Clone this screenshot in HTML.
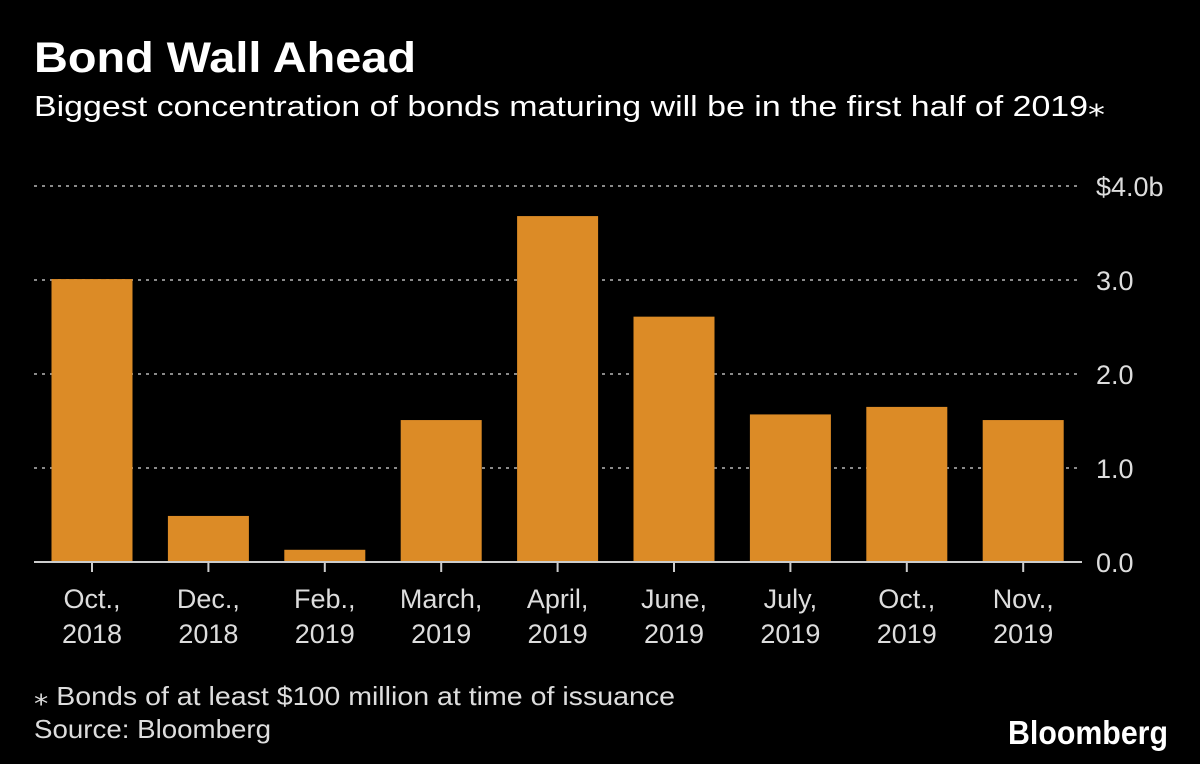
<!DOCTYPE html>
<html><head><meta charset="utf-8"><style>html,body{margin:0;padding:0;background:#000}svg{display:block}</style></head>
<body>
<svg width="1200" height="764" xmlns="http://www.w3.org/2000/svg" font-family="Liberation Sans, sans-serif">
<rect width="1200" height="764" fill="#000"/>
<text x="34" y="72" fill="#fff" font-size="43" font-weight="bold" textLength="382" lengthAdjust="spacingAndGlyphs">Bond Wall Ahead</text>
<text x="34" y="116" fill="#fff" font-size="29" textLength="1071" lengthAdjust="spacingAndGlyphs">Biggest concentration of bonds maturing will be in the first half of 2019⁎</text>
<g id="grid"></g><g id="bars"></g><g id="xaxis"></g><g id="yaxis"></g>
<text x="34" y="705" fill="#ddd" font-size="26" textLength="641" lengthAdjust="spacingAndGlyphs">⁎ Bonds of at least $100 million at time of issuance</text>
<text x="34" y="738" fill="#ddd" font-size="26" textLength="237" lengthAdjust="spacingAndGlyphs">Source: Bloomberg</text>
<text x="1168" y="744" fill="#fff" font-size="33" font-weight="bold" text-anchor="end" textLength="160" lengthAdjust="spacingAndGlyphs">Bloomberg</text>
</svg>
<script>
const categories1 = ["Oct.,","Dec.,","Feb.,","March,","April,","June,","July,","Oct.,","Nov.,"];
const categories2 = ["2018","2018","2019","2019","2019","2019","2019","2019","2019"];
const values = [3.01,0.49,0.13,1.51,3.68,2.61,1.57,1.65,1.51];
const yTicks = [0,1,2,3,4];
const yTickLabels = ["0.0","1.0","2.0","3.0","$4.0b"];
const NS="http://www.w3.org/2000/svg";
const x0=34,x1=1082,y0=562,pxPerUnit=94,firstCenter=92,step=116.4,barW=81;
const y=v=>y0-v*pxPerUnit;
const xc=i=>firstCenter+i*step;
function mk(tag,attrs,parent){const e=document.createElementNS(NS,tag);for(const k in attrs)e.setAttribute(k,attrs[k]);parent.appendChild(e);return e;}
const grid=document.getElementById('grid'),bars=document.getElementById('bars'),xa=document.getElementById('xaxis'),ya=document.getElementById('yaxis');
yTicks.forEach((t,i)=>{
  if(t>0){const l=mk('line',{x1:x0,x2:x1,y1:y(t),y2:y(t),stroke:'#8a8a8a','stroke-width':2,'stroke-dasharray':'3,5'},grid);
  
  }
  const tx=mk('text',{x:1096,y:y(t)+10,fill:'#ddd','font-size':27},ya);
  
  
  tx.textContent=yTickLabels[i];
});
values.forEach((v,i)=>{
  const r=mk('rect',{x:xc(i)-barW/2,y:y(v),width:barW,height:v*pxPerUnit,fill:'#dc8b26'},bars);
  
  
  const tk=mk('line',{x1:xc(i),x2:xc(i),y1:y0,y2:y0+10,stroke:'#ccc','stroke-width':2},xa);
  
  
  const t1=mk('text',{x:xc(i),y:608,fill:'#ddd','font-size':27,'text-anchor':'middle'},xa);
  
  
  t1.textContent=categories1[i];
  const t2=mk('text',{x:xc(i),y:643,fill:'#ddd','font-size':27,'text-anchor':'middle'},xa);
  
  
  t2.textContent=categories2[i];
});
const ax=mk('line',{x1:x0,x2:x1,y1:y0,y2:y0,stroke:'#ccc','stroke-width':2},xa);


</script>
</body></html>
